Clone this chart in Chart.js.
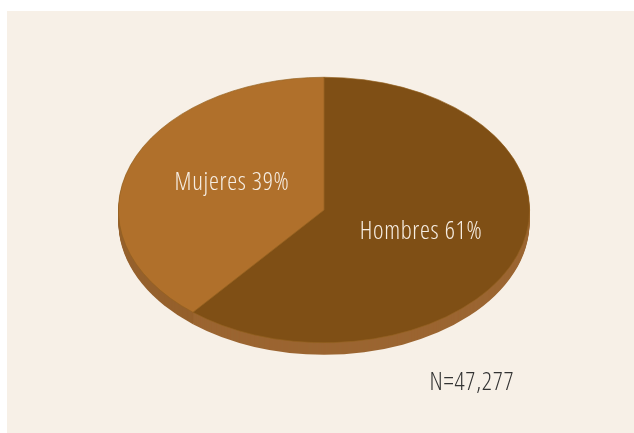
<!DOCTYPE html>
<html>
<head>
<meta charset="utf-8">
<script src="https://cdn.jsdelivr.net/npm/chart.js@4.4.0/dist/chart.umd.min.js"></script>
<style>
  html, body { margin: 0; padding: 0; background: #ffffff; }
  #wrap { width: 634px; height: 433px; position: relative; }
</style>
</head>
<body>
<div id="wrap"><canvas id="pieChart"></canvas></div>
<script>
// data
var categories = ['Hombres', 'Mujeres'];
var shares = [61, 39];
var totalLabel = 'N=47,277';

var topColors = ['#7f4f15', '#b0702b'];
var sideColors = ['#9b6531', '#95602c'];
var squash = 133 / 206;   // vertical flattening of the pie
var depth = 12;           // thickness of the pie edge in px

function squashAround(ctx, el) {
  ctx.translate(el.x, el.y);
  ctx.scale(1, squash);
  ctx.translate(-el.x, -el.y);
}

function slicePath(ctx, el) {
  ctx.beginPath();
  ctx.moveTo(el.x, el.y);
  ctx.arc(el.x, el.y, el.outerRadius, el.startAngle, el.endAngle);
  ctx.closePath();
}

var pie3d = {
  id: 'pie3d',
  beforeDraw: function (chart) {
    var ctx = chart.ctx;
    ctx.save();
    ctx.fillStyle = '#ffffff';
    ctx.fillRect(0, 0, chart.width, chart.height);
    ctx.fillStyle = '#f7f0e7';
    ctx.fillRect(7, 11, chart.width - 7, chart.height - 11);
    ctx.restore();
  },
  beforeDatasetsDraw: function (chart) {
    var ctx = chart.ctx;
    var meta = chart.getDatasetMeta(0);
    // edge of the disc: the slices repeated downwards
    for (var d = depth; d >= 1; d--) {
      meta.data.forEach(function (el, i) {
        ctx.save();
        ctx.translate(0, d);
        squashAround(ctx, el);
        slicePath(ctx, el);
        ctx.fillStyle = sideColors[i];
        ctx.fill();
        ctx.restore();
      });
    }
    ctx.save();
    squashAround(ctx, meta.data[0]);
  },
  afterDatasetsDraw: function (chart) {
    var ctx = chart.ctx;
    ctx.restore();
    var meta = chart.getDatasetMeta(0);
    var el = meta.data[0];
    ctx.save();
    ctx.fillStyle = '#f6ede2';
    ctx.font = '300 25px "Open Sans"';
    ctx.fontStretch = 'condensed';
    ctx.letterSpacing = '0.7px';
    ctx.textAlign = 'center';
    ctx.textBaseline = 'middle';
    var offsets = [[97, 22], [-92, -27]];
    categories.forEach(function (c, i) {
      ctx.fillText(c + ' ' + shares[i] + '%', el.x + offsets[i][0], el.y + offsets[i][1]);
    });
    ctx.fillStyle = '#333333';
    ctx.fillText(totalLabel, 472, 383);
    ctx.restore();
  }
};

new Chart(document.getElementById('pieChart'), {
  type: 'pie',
  data: {
    labels: categories,
    datasets: [{
      data: shares,
      backgroundColor: topColors,
      borderColor: '#93601f',
      borderWidth: 0.8
    }]
  },
  options: {
    responsive: true,
    maintainAspectRatio: false,
    animation: false,
    events: [],
    layout: { padding: { left: 118, right: 104, top: 4, bottom: 17 } },
    plugins: {
      legend: { display: false },
      tooltip: { enabled: false }
    }
  },
  plugins: [pie3d]
});
</script>
</body>
</html>
